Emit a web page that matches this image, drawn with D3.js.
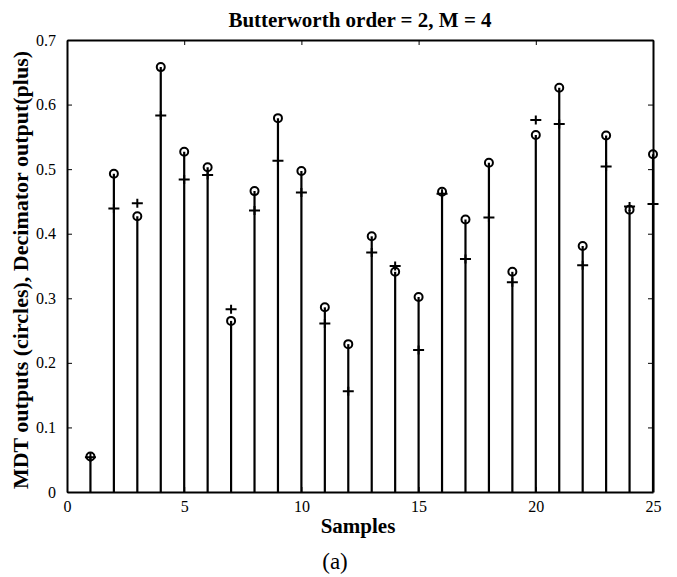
<!DOCTYPE html>
<html>
<head>
<meta charset="utf-8">
<script src="https://cdn.jsdelivr.net/npm/d3@7"></script>
<style>
  html, body { margin: 0; padding: 0; background: #fff; }
  svg { display: block; }
  text { font-family: "Liberation Serif", "Times New Roman", serif; fill: #000; }
</style>
</head>
<body>
<svg id="chart" width="677" height="577"></svg>
<script>
// Sample indices
const samples = d3.range(1, 26);
// MDT outputs (circles, drawn as stems)
const mdtOutputs = [0.055, 0.493, 0.427, 0.658, 0.527, 0.503, 0.265, 0.466, 0.579, 0.497,
                    0.286, 0.229, 0.396, 0.341, 0.302, 0.465, 0.422, 0.510, 0.341, 0.553,
                    0.626, 0.381, 0.552, 0.437, 0.523];
// Decimator outputs (plus markers)
const decimatorOutputs = [0.054, 0.439, 0.447, 0.583, 0.484, 0.491, 0.283, 0.436, 0.513, 0.464,
                          0.261, 0.156, 0.371, 0.350, 0.220, 0.462, 0.361, 0.425, 0.325, 0.576,
                          0.570, 0.351, 0.504, 0.442, 0.446];
const xTicks = [0, 5, 10, 15, 20, 25];
const yTicks = [0, 0.1, 0.2, 0.3, 0.4, 0.5, 0.6, 0.7];

const titleText = "Butterworth order = 2, M = 4";
const xLabelText = "Samples";
const yLabelText = "MDT outputs (circles), Decimator output(plus)";
const captionText = "(a)";

const plotLeft = 67, plotRight = 653, plotTop = 40, plotBottom = 492;
const svg = d3.select("#chart");

const x = d3.scaleLinear().domain([0, 25]).range([plotLeft, plotRight]);
const y = d3.scaleLinear().domain([0, 0.7]).range([plotBottom, plotTop]);

const tickLen = 5;

// Axes with inward ticks on all four sides
const gBottom = svg.append("g").attr("transform", `translate(0,${plotBottom})`)
  .call(d3.axisBottom(x).tickValues(xTicks).tickFormat(d3.format("d")).tickSizeInner(-tickLen).tickSizeOuter(0).tickPadding(9));
const gTop = svg.append("g").attr("transform", `translate(0,${plotTop})`)
  .call(d3.axisTop(x).tickValues(xTicks).tickFormat("").tickSizeInner(-tickLen).tickSizeOuter(0));
const gLeft = svg.append("g").attr("transform", `translate(${plotLeft},0)`)
  .call(d3.axisLeft(y).tickValues(yTicks).tickFormat(d => d === 0 ? "0" : d3.format(".1f")(d)).tickSizeInner(-tickLen).tickSizeOuter(0).tickPadding(11));
const gRight = svg.append("g").attr("transform", `translate(${plotRight},0)`)
  .call(d3.axisRight(y).tickValues(yTicks).tickFormat("").tickSizeInner(-tickLen).tickSizeOuter(0));

[gBottom, gTop, gLeft, gRight].forEach(g => {
  g.select(".domain").attr("stroke", "#000").attr("stroke-width", 2);
  g.selectAll(".tick line").attr("stroke", "#000").attr("stroke-width", 1);
  g.selectAll(".tick text").attr("font-family", "Liberation Serif, serif").attr("font-size", 16).attr("fill", "#000");
});

// Stems for MDT outputs
const data = samples.map((s, i) => ({ s, m: mdtOutputs[i], d: decimatorOutputs[i] }));
svg.append("g").selectAll("line").data(data).join("line")
  .attr("x1", d => x(d.s)).attr("x2", d => x(d.s))
  .attr("y1", y(0)).attr("y2", d => y(d.m))
  .attr("stroke", "#000").attr("stroke-width", 2.2);

// Circle markers
svg.append("g").selectAll("circle").data(data).join("circle")
  .attr("cx", d => x(d.s)).attr("cy", d => y(d.m)).attr("r", 4)
  .attr("fill", "none").attr("stroke", "#000").attr("stroke-width", 2);

// Plus markers for decimator outputs
svg.append("g").selectAll("path").data(data).join("path")
  .attr("d", d => {
    const cx = x(d.s), cy = y(d.d);
    return `M${cx - 5.5},${cy}H${cx + 5.5}M${cx},${cy - 4.5}V${cy + 4.5}`;
  })
  .attr("stroke", "#000").attr("stroke-width", 2).attr("fill", "none");

// Title and labels
svg.append("text").attr("x", (plotLeft + plotRight) / 2).attr("y", 27).attr("text-anchor", "middle")
  .attr("font-size", 21).attr("font-weight", "bold").text(titleText);
svg.append("text").attr("x", (plotLeft + plotRight) / 2 - 2).attr("y", 533).attr("text-anchor", "middle")
  .attr("font-size", 21).attr("font-weight", "bold").text(xLabelText);
svg.append("text").attr("transform", `translate(28,270) rotate(-90)`).attr("text-anchor", "middle")
  .attr("font-size", 22).attr("font-weight", "bold").text(yLabelText);
svg.append("text").attr("x", 335).attr("y", 569).attr("text-anchor", "middle")
  .attr("font-size", 23).text(captionText);
</script>
</body>
</html>
